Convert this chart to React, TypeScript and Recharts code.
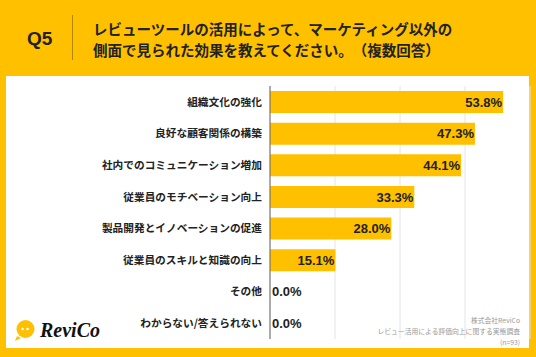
import React from 'react';
import { BarChart, Bar, XAxis, YAxis, CartesianGrid, LabelList } from 'recharts';

const categories = [
  '組織文化の強化',
  '良好な顧客関係の構築',
  '社内でのコミュニケーション増加',
  '従業員のモチベーション向上',
  '製品開発とイノベーションの促進',
  '従業員のスキルと知識の向上',
  'その他',
  'わからない/答えられない',
];
const values = [53.8, 47.3, 44.1, 33.3, 28.0, 15.1, 0.0, 0.0];
const xTicks = [0, 15, 30, 45];
const xDomain = [0, 60];

const questionLabel = 'Q5';
const titleLines = [
  'レビューツールの活用によって、マーケティング以外の',
  '側面で見られた効果を教えてください。（複数回答）',
];
const sourceLines = ['株式会社ReviCo', 'レビュー活用による評価向上に関する実態調査', '(n=93)'];
const logoText = 'ReviCo';

const data = categories.map((name, i) => ({ name, value: values[i] }));

const YELLOW = '#FFC000';
const JP = '"Noto Sans CJK JP", "Noto Sans", sans-serif';
const LAT = '"Liberation Sans", Arial, "Noto Sans CJK JP", sans-serif';

const BarLabel = (props: any) => {
  const { x, y, width, height, value } = props;
  const zero = Number(value) === 0;
  const tx = zero ? Number(x) + 2 : Number(x) + Number(width) - 1;
  return (
    <text
      x={tx}
      y={Number(y) + Number(height) / 2}
      dy="0.36em"
      textAnchor={zero ? 'start' : 'end'}
      fontFamily={LAT}
      fontWeight={700}
      fontSize={13}
      fill="#222"
    >
      {Number(value).toFixed(1)}%
    </text>
  );
};

const CatTick = (props: any) => {
  const { x, y, payload } = props;
  return (
    <text
      x={x}
      y={y}
      dy="0.36em"
      textAnchor="end"
      fontFamily={JP}
      fontWeight={700}
      fontSize={10.7}
      fill="#222"
    >
      {payload.value}
    </text>
  );
};

export default function App() {
  return (
    <div
      style={{
        position: 'fixed',
        left: 0,
        top: 0,
        width: 536,
        height: 357,
        background: YELLOW,
        overflow: 'hidden',
      }}
    >
      <div
        style={{
          position: 'absolute',
          left: 6,
          top: 76,
          width: 523,
          height: 272,
          background: '#fff',
        }}
      />
      <div
        style={{
          position: 'absolute',
          left: 27,
          top: 27,
          fontFamily: LAT,
          fontWeight: 700,
          fontSize: 19,
          lineHeight: '24px',
          color: '#222',
        }}
      >
        {questionLabel}
      </div>
      <div
        style={{
          position: 'absolute',
          left: 72,
          top: 15,
          width: 1,
          height: 45,
          background: 'rgba(0,0,0,0.3)',
        }}
      />
      <div
        style={
          {
            position: 'absolute',
            left: 93,
            top: 18,
            fontFamily: JP,
            fontWeight: 700,
            fontSize: 14.5,
            lineHeight: '21px',
            color: '#222',
            whiteSpace: 'nowrap',
            textSpacingTrim: 'space-all',
          } as any
        }
      >
        {titleLines.map((t, i) => (
          <div key={i}>{t}</div>
        ))}
      </div>
      <div style={{ position: 'absolute', left: 0, top: 0 }}>
        <BarChart
          width={536}
          height={357}
          data={data}
          layout="vertical"
          margin={{ top: 86, right: 6, bottom: 18, left: 0 }}
          barSize={22}
        >
          <CartesianGrid horizontal={false} vertical={true} stroke="#e4e4e4" />
          <XAxis type="number" domain={xDomain} ticks={xTicks} hide />
          <YAxis
            type="category"
            dataKey="name"
            width={270}
            tickLine={false}
            tickSize={0}
            tickMargin={8}
            axisLine={{ stroke: '#666', strokeWidth: 1 }}
            tick={<CatTick />}
            interval={0}
          />
          <Bar dataKey="value" fill={YELLOW} minPointSize={0.01} isAnimationActive={false}>
            <LabelList dataKey="value" content={<BarLabel />} />
          </Bar>
        </BarChart>
      </div>
      <div
        style={{
          position: 'absolute',
          right: 16,
          top: 315,
          textAlign: 'right',
          fontFamily: JP,
          fontSize: 6.8,
          lineHeight: '11px',
          color: '#999',
          whiteSpace: 'nowrap',
        }}
      >
        {sourceLines.map((t, i) => (
          <div key={i}>{t}</div>
        ))}
      </div>
      <svg
        style={{ position: 'absolute', left: 10, top: 314 }}
        width={100}
        height={30}
      >
        <path d="M 7 22 L 5 27 L 11 24 Z" fill={YELLOW} />
        <circle cx={15.5} cy={15} r={9} fill={YELLOW} />
        <circle cx={12.5} cy={15} r={1.3} fill="#fff" />
        <circle cx={17.5} cy={15} r={1.3} fill="#fff" />
        <text
          x={30}
          y={22.5}
          fontFamily='"Liberation Serif", serif'
          fontStyle="italic"
          fontWeight={700}
          fontSize={20}
          fill="#111"
        >
          {logoText}
        </text>
      </svg>
    </div>
  );
}
